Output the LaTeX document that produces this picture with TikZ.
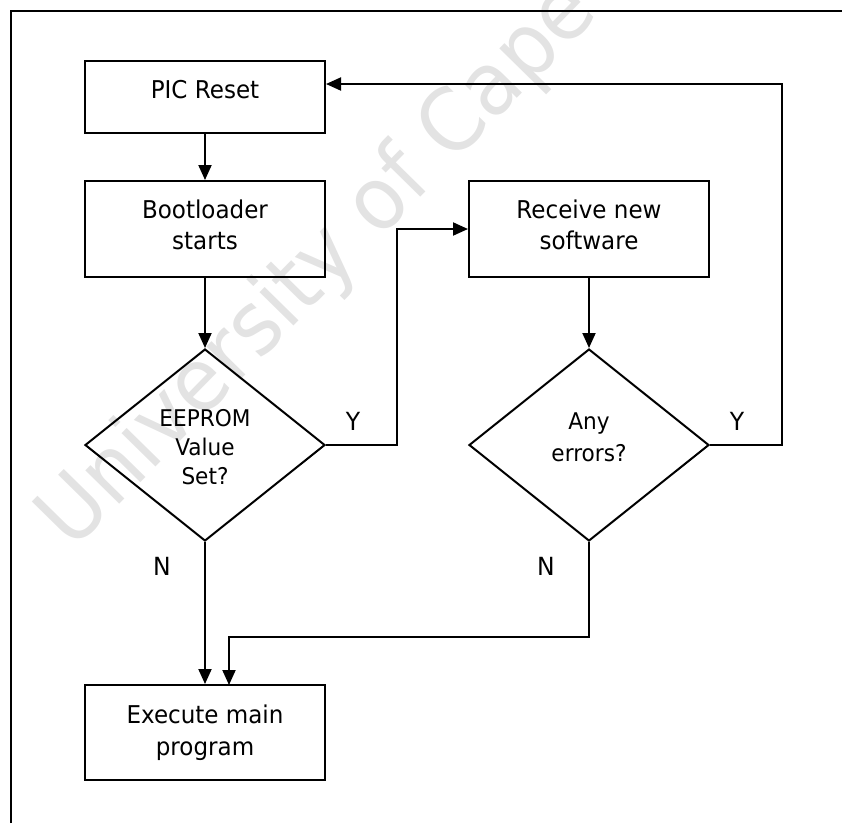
\documentclass[tikz,border=0pt]{standalone}
\usepackage{fontspec}
\setmainfont{DejaVu Sans}[FakeStretch=0.94]
\usetikzlibrary{arrows.meta,shapes.geometric}

\tikzset{
  box/.style={draw, line width=2pt, rectangle, minimum width=240pt, minimum height=#1, inner sep=0pt},
  decision/.style={draw, line width=2pt, diamond, minimum width=240pt, minimum height=192pt, aspect=1.25, inner sep=0pt},
  flow/.style={line width=2pt, -{Triangle[length=15pt,width=13pt]}},
  boxtext/.style={anchor=base, inner sep=0pt, font=\fontsize{24.5}{30}\selectfont},
  dectext/.style={anchor=base, inner sep=0pt, font=\fontsize{23}{29}\selectfont},
  yn/.style={anchor=base, inner sep=0pt, font=\fontsize{25}{30}\selectfont},
}

\begin{document}
\begin{tikzpicture}[x=1pt, y=-1pt]
\useasboundingbox (0,0) rectangle (842,823);

% faint watermark behind the chart
\node[rotate=45.5, anchor=base west, inner sep=0pt, text=black!11,
      font=\fontsize{87}{100}\selectfont] (wm) at (72,552) {University of Cape};

% page frame
\draw[line width=1.5pt] (11,823) -- (11,11) -- (842,11);

% shapes
\node[box=72pt]  (reset)   at (205,97)    {};
\node[box=96pt]  (boot)    at (205,229)   {};
\node[box=96pt]  (receive) at (589,229)   {};
\node[decision]  (eeprom)  at (205,445)   {};
\node[decision]  (errors)  at (589,445)   {};
\node[box=95pt]  (exec)    at (205,732.5) {};

% texts
\node[boxtext] (tReset)  at (205,98)  {PIC Reset};
\node[boxtext] (tBoot1)  at (205,218) {Bootloader};
\node[boxtext] (tBoot2)  at (205,249) {starts};
\node[boxtext] (tRecv1)  at (589,218) {Receive new};
\node[boxtext] (tRecv2)  at (589,249) {software};
\node[dectext] (tEep1)   at (205,426) {EEPROM};
\node[dectext] (tEep2)   at (205,455) {Value};
\node[dectext] (tEep3)   at (205,484) {Set?};
\node[dectext] (tErr1)   at (589,429) {Any};
\node[dectext] (tErr2)   at (589,461) {errors?};
\node[boxtext] (tExec1)  at (205,723) {Execute main};
\node[boxtext] (tExec2)  at (205,755) {program};

% branch labels
\node[yn] (yEep) at (353,430) {Y};
\node[yn] (yErr) at (737,430) {Y};
\node[yn] (nEep) at (162,575) {N};
\node[yn] (nErr) at (546,575) {N};

% corner points of the routed connectors
\coordinate (loopR)  at (782,84);
\coordinate (resetR) at (reset.east |- loopR);
\coordinate (yTurn)  at (397,445);
\coordinate (nTurn)  at (589,637);
\coordinate (execIn) at (229,685);

% connectors
\draw[flow] (reset) -- (boot);
\draw[flow] (boot) -- (eeprom);
\draw[flow] (receive) -- (errors);
\draw[flow] (eeprom.south) -- (eeprom.south |- exec.north);
\draw[flow] (eeprom.east) -- (yTurn) |- (receive.west);
\draw[flow] (errors.east) -| (loopR) -- (resetR);
\draw[flow] (errors.south) -- (nTurn) -| (execIn);
\end{tikzpicture}
\end{document}
